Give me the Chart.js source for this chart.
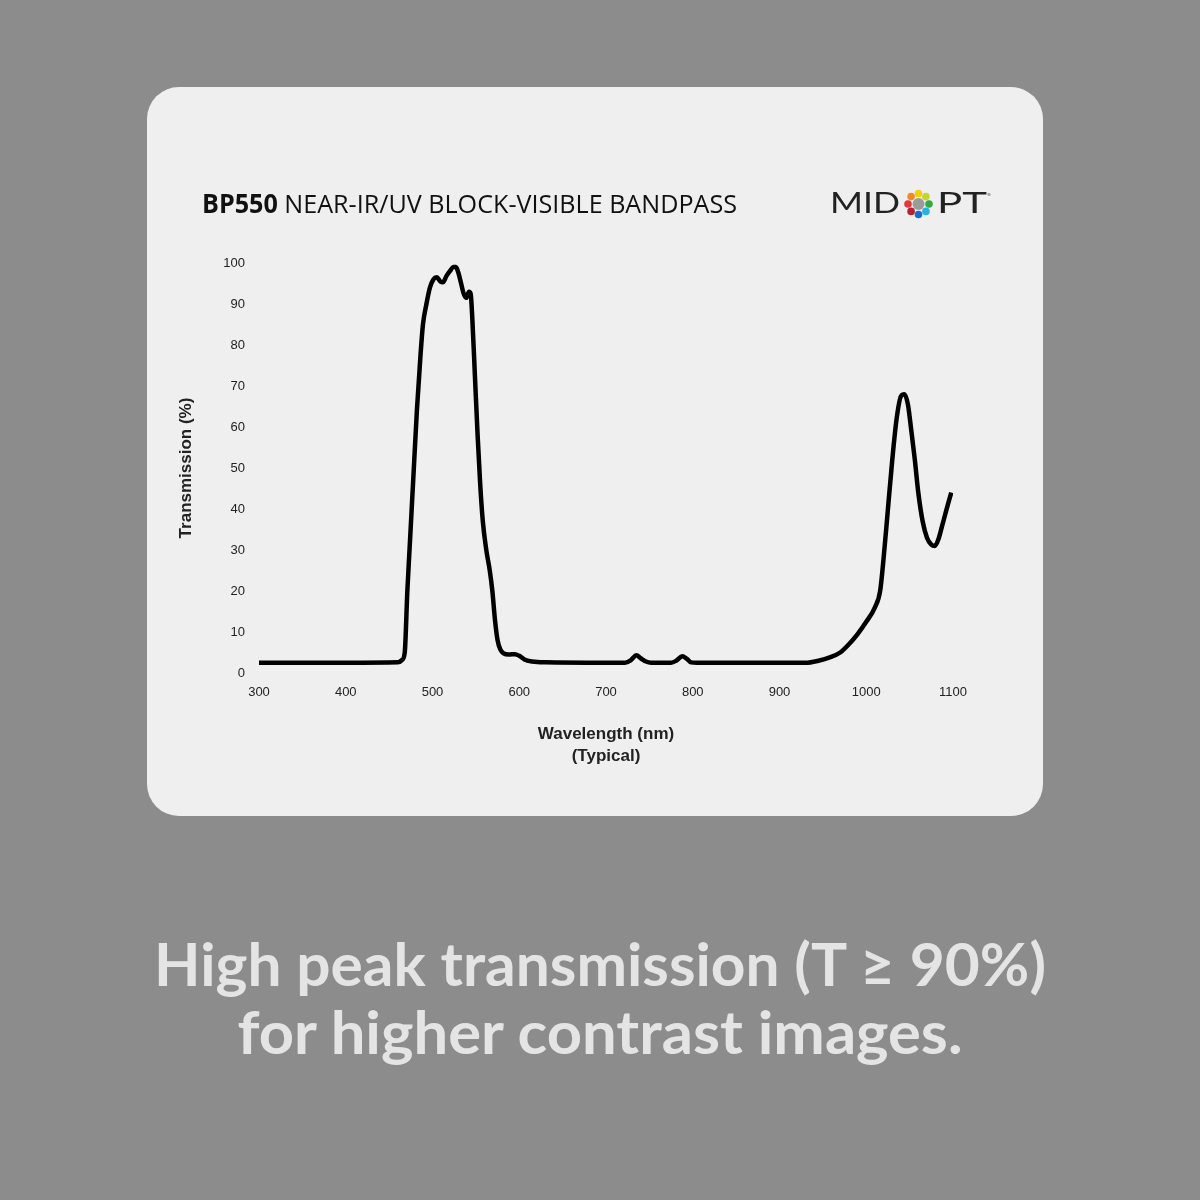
<!DOCTYPE html>
<html>
<head>
<meta charset="utf-8">
<script src="https://cdn.jsdelivr.net/npm/chart.js@4.4.1/dist/chart.umd.min.js"></script>
<style>
  html, body { margin: 0; padding: 0; }
  body { width: 1200px; height: 1200px; background: #8c8c8c; position: relative; overflow: hidden; }
  #card { position: absolute; left: 147px; top: 87px; width: 896px; height: 729px; background: #efefef; border-radius: 32px; }
  #chart { position: absolute; left: 147px; top: 87px; }
  #overlay { position: absolute; left: 0; top: 0; pointer-events: none; }
</style>
</head>
<body>
<div id="card"></div>
<canvas id="chart" width="896" height="729"></canvas>

<svg id="overlay" width="1200" height="1200" xmlns="http://www.w3.org/2000/svg">
  <!-- หัวเรื่อง -->
  <text x="202" y="213" font-family="Open Sans, Noto Sans, sans-serif" font-size="26" fill="#111"
        textLength="535" lengthAdjust="spacingAndGlyphs"><tspan font-weight="700">BP550</tspan> NEAR-IR/UV BLOCK-VISIBLE BANDPASS</text>

  <!-- โลโก้ MIDOPT -->
  <text x="830" y="213" font-family="Lato, DejaVu Sans, sans-serif" font-weight="400" font-size="28" fill="#222"
        textLength="70" lengthAdjust="spacingAndGlyphs">MID</text>
  <g id="logo-dots"></g>
  <text x="937" y="213" font-family="Lato, DejaVu Sans, sans-serif" font-weight="400" font-size="28" fill="#222"
        textLength="50" lengthAdjust="spacingAndGlyphs">PT</text>
  <text x="987" y="196" font-family="DejaVu Sans, sans-serif" font-size="4" fill="#222">®</text>

  <!-- ข้อความด้านล่าง -->
  <text x="600" y="986" text-anchor="middle" font-family="Lato, Open Sans, sans-serif" font-weight="700" font-size="60"
        fill="#e4e4e4" textLength="892" lengthAdjust="spacingAndGlyphs">High peak transmission (T ≥ 90%)</text>
  <text x="600" y="1054" text-anchor="middle" font-family="Lato, Open Sans, sans-serif" font-weight="700" font-size="60"
        fill="#e4e4e4" textLength="725" lengthAdjust="spacingAndGlyphs">for higher contrast images.</text>
</svg>

<script>
// ความยาวคลื่น (nm)
const wavelengths = [
    300, 400, 460, 465, 468, 471, 474, 478, 482, 486, 489, 493, 497, 501, 505, 509,
    512, 516, 520, 524, 527, 530, 533, 536, 539, 542, 544, 546, 549, 552, 555, 558,
    562, 566, 569, 572, 575, 578, 582, 588, 595, 600, 606, 615, 630, 700, 722, 729,
    735, 740, 746, 752, 775, 781, 788, 793, 798, 805, 930, 945, 958, 970, 980, 990,
    1000, 1010, 1016, 1020, 1025, 1030, 1035, 1040, 1044, 1048, 1052, 1056, 1060, 1065,
    1070, 1075, 1079, 1083, 1087, 1092, 1098
];

// ค่าการส่งผ่าน (%)
const transmission = [
    2.5, 2.5, 2.6, 3.2, 5, 20, 32, 48, 64, 77, 85, 90, 94, 96, 96.5, 95.5,
    95.3, 96.8, 98, 99, 99, 97.5, 95, 92.5, 91.5, 93, 92.5, 86, 72, 58, 46, 37,
    30, 25, 20, 13, 8, 5.8, 4.8, 4.5, 4.6, 4.2, 3.3, 2.8, 2.6, 2.5, 2.5, 3.2,
    4.3, 3.6, 2.8, 2.5, 2.5, 3.0, 4.1, 3.5, 2.6, 2.5, 2.5, 3.0, 3.8, 5, 7, 9.5,
    12.5, 16, 20, 28, 40, 52, 62, 67.5, 68, 65.5, 59, 52, 44, 37,
    33, 31.3, 31, 32.5, 35.5, 39.5, 44
];

// ป้ายแกน
const xTicks = [300, 400, 500, 600, 700, 800, 900, 1000, 1100];
const yTicks = [0, 10, 20, 30, 40, 50, 60, 70, 80, 90, 100];

// สีจุดของโลโก้ (ตามเข็มนาฬิกาจากด้านบน)
const logoColors = ['#f3cf0c', '#c3d52f', '#35a846', '#25b3e4', '#1f6dbf', '#b7202f', '#e3373f', '#ef8a24'];

// วาดจุดสีในตัว O
function drawLogo() {
    const g = document.getElementById('logo-dots');
    const cx = 918.5, cy = 204;
    let html = '';
    logoColors.forEach((c, i) => {
        const a = -Math.PI / 2 + i * Math.PI / 4;
        html += `<circle cx="${cx + 10.5 * Math.cos(a)}" cy="${cy + 10.5 * Math.sin(a)}" r="3.8" fill="${c}"/>`;
    });
    html += `<circle cx="${cx}" cy="${cy}" r="6" fill="#9b9b9b"/>`;
    g.innerHTML = html;
}
drawLogo();

const points = wavelengths.map((w, i) => ({ x: w, y: transmission[i] }));

const tickFont = { family: 'Liberation Sans, Arial, sans-serif', size: 13 };
const titleFont = { family: 'Liberation Sans, Arial, sans-serif', size: 17, weight: 'bold' };

new Chart(document.getElementById('chart').getContext('2d'), {
    type: 'line',
    data: {
        datasets: [{
            data: points,
            borderColor: '#000',
            borderWidth: 4.5,
            pointRadius: 0,
            fill: false,
            cubicInterpolationMode: 'monotone',
            borderCapStyle: 'butt',
            borderJoinStyle: 'round'
        }]
    },
    options: {
        responsive: false,
        animation: false,
        layout: { padding: { left: 29, top: 176, right: 90, bottom: 49 } },
        plugins: { legend: { display: false }, tooltip: { enabled: false } },
        scales: {
            x: {
                type: 'linear',
                min: 300,
                max: 1100,
                afterBuildTicks: scale => { scale.ticks = xTicks.map(v => ({ value: v })); },
                afterFit: scale => { scale.height = 94; },
                grid: { display: false, drawTicks: false },
                border: { display: false },
                ticks: { font: tickFont, color: '#222', padding: 12, maxRotation: 0, callback: v => String(v) },
                title: {
                    display: true,
                    text: ['Wavelength (nm)', '(Typical)'],
                    font: { ...titleFont, lineHeight: 1.3 },
                    color: '#222',
                    padding: 0
                }
            },
            y: {
                min: 0,
                max: 100,
                afterBuildTicks: scale => { scale.ticks = yTicks.map(v => ({ value: v })); },
                afterFit: scale => { scale.width = 83; },
                grid: { display: false, drawTicks: false },
                border: { display: false },
                ticks: { font: tickFont, color: '#222', padding: 14, callback: v => String(v) },
                title: {
                    display: true,
                    text: 'Transmission (%)',
                    font: { ...titleFont, lineHeight: 1.2 },
                    color: '#222',
                    padding: { top: 0, bottom: 0 }
                }
            }
        }
    }
});
</script>
</body>
</html>
